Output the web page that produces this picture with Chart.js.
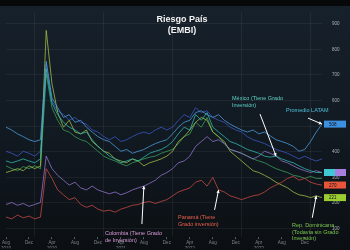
<!DOCTYPE html>
<html>
<head>
<meta charset="utf-8">
<script src="https://cdn.jsdelivr.net/npm/chart.js@4"></script>
<style>
  html, body { margin: 0; padding: 0; }
  body {
    width: 350px; height: 250px; overflow: hidden; position: relative;
    background: linear-gradient(#17212b, #111921 55%, #0b0f13);
    font-family: "Liberation Sans", Arial, sans-serif;
  }
  #bar { position: absolute; left: 0; top: 0; width: 350px; height: 6px; background: #06080a; }
  #wrap { position: absolute; left: 0; top: 0; width: 350px; height: 250px; }
  .title { position: absolute; color: #f2f2f2; font-weight: bold; font-size: 9px; line-height: 11px; text-align: center; }
  .note { position: absolute; font-size: 5.5px; line-height: 6.5px; white-space: nowrap; }
</style>
</head>
<body>
<div id="bar"></div>
<div id="wrap"><canvas id="chart"></canvas></div>
<div class="title" style="left:140px; top:14px; width:84px;">Riesgo País<br>(EMBI)</div>
<div class="note" style="left:232px; top:95px; color:#5fd3c6;">México (Tiene Grado<br>Inversión)</div>
<div class="note" style="left:286px; top:107px; color:#4fc1d8;">Promedio LATAM</div>
<div class="note" style="left:105px; top:230px; color:#d99ad6;">Colombia (Tiene Grado<br>de Inversión)</div>
<div class="note" style="left:178px; top:214px; color:#e8604a;">Panamá (Tiene<br>Grado inversión)</div>
<div class="note" style="left:292px; top:222px; color:#7ec850;">Rep. Dominicana<br>(Todavía sin Grado<br>Inversión)</div>
<script>
// monthly, Aug 2019 - Mar 2024
const months = [
  '2019-08','2019-09','2019-10','2019-11','2019-12',
  '2020-01','2020-02','2020-03','2020-04','2020-05','2020-06','2020-07','2020-08','2020-09','2020-10','2020-11','2020-12',
  '2021-01','2021-02','2021-03','2021-04','2021-05','2021-06','2021-07','2021-08','2021-09','2021-10','2021-11','2021-12',
  '2022-01','2022-02','2022-03','2022-04','2022-05','2022-06','2022-07','2022-08','2022-09','2022-10','2022-11','2022-12',
  '2023-01','2023-02','2023-03','2023-04','2023-05','2023-06','2023-07','2023-08','2023-09','2023-10','2023-11','2023-12',
  '2024-01','2024-02','2024-03'
];
const monthAbbr = ['Jan','Feb','Mar','Apr','May','Jun','Jul','Aug','Sep','Oct','Nov','Dec'];
const yTicks = [100, 200, 300, 400, 500, 600, 700, 800, 900];

const latam = [496,485,470,459,447,440,447, 753,610,572,534,545,515,523,496,477,459,
  447,440,421,402,409,394,402,409,421,432, 440,447,470,496,515,523,553,560,545,534,
  545,523,508,496,485,477,485,470,477,462, 447,440,432,421,402,409,440,477,508];
const mexico = [364,357,364,372,364,357,372, 723,591,545,515,496,485,470,477,447,421,
  402,383,372,357,364,372,364,379,394,402, 409,421,440,470,496,485,545,523,553,496,
  477,459,440,432,421,409,402,394,383,379, 383,372,364,357,345,334,326,319,319];
const otro1 = [345,334,326,342,334,345,334, 704,572,523,485,477,459,447,440,421,402,
  383,372,364,353,345,357,364,372,379,383, 394,402,409,432,459,470,515,496,534,477,
  459,432,409,402,394,383,372,364,357,345, 334,326,319,308,304,296,304,296,296];
const otro2 = [402,394,383,402,394,383,402, 742,598,560,545,523,534,515,508,485,477,
  459,447,459,440,447,459,470,477,470,485, 496,485,496,523,545,534,572,553,560,534,
  523,515,496,485,477,459,447,440,432,421, 409,402,394,383,372,383,372,364,372];
const colombia = [194,202,191,198,187,194,202, 383,334,308,289,270,281,259,251,266,251,
  243,236,243,232,240,251,259,266,277,289, 308,319,334,357,364,383,421,440,459,440,
  447,432,409,402,394,383,372,383,402,394, 383,364,357,345,334,326,319,326,319];
const panama = [145,138,153,142,149,138,145, 334,296,251,232,213,221,194,183,191,176,
  168,172,164,176,183,191,194,202,206,198, 206,213,228,243,251,259,281,289,266,300,
  251,243,228,221,213,221,228,232,243,259, 270,281,296,304,289,296,281,274,270];
const repDom = [319,326,334,326,345,334,345, 874,666,553,496,523,477,470,485,440,421,
  402,394,372,364,357,372,364,345,357,364, 372,383,402,440,459,485,515,534,523,477,
  459,440,402,383,364,345,326,319,308,296, 281,270,259,243,232,228,221,228,221];

const series = [
  { label: 'Promedio LATAM', data: latam, color: 'rgba(80,160,225,0.85)' },
  { label: 'México', data: mexico, color: 'rgba(50,190,175,0.85)' },
  { label: 'Colombia', data: colombia, color: 'rgba(150,120,210,0.85)' },
  { label: 'Panamá', data: panama, color: 'rgba(205,75,70,0.85)' },
  { label: 'Rep. Dominicana', data: repDom, color: 'rgba(165,195,70,0.85)' },
  { label: 'Otro 1', data: otro1, color: 'rgba(65,170,95,0.8)' },
  { label: 'Otro 2', data: otro2, color: 'rgba(60,90,200,0.85)' }
];

// last-value boxes on the right axis
const boxes = [
  { set: 0, color: '#3d8fe0', part: 0 },
  { set: 1, color: '#3fc7d6', part: 1 },
  { set: 2, color: '#a77de0', part: 2 },
  { set: 3, color: '#e8553a', part: 0 },
  { set: 4, color: '#9acd32', part: 0 }
];
// arrows from the notes to a point on a line
const pointers = [
  { set: 1, at: 47, dx: -16, dy: -42 },
  { set: 0, at: 55, dx: -14, dy: -6 },
  { set: 2, at: 24, dx: -2, dy: 38 },
  { set: 3, at: 37, dx: -4, dy: 20 },
  { set: 4, at: 54, dx: -4, dy: 22 }
];

const extras = {
  id: 'extras',
  afterDatasetsDraw(chart) {
    const ctx = chart.ctx, x = chart.scales.x, y = chart.scales.y;
    ctx.save();
    ctx.strokeStyle = '#ffffff';
    ctx.fillStyle = '#ffffff';
    ctx.lineWidth = 1;
    pointers.forEach(p => {
      const tx = x.getPixelForValue(p.at);
      const ty = y.getPixelForValue(series[p.set].data[p.at]);
      const sx = tx + p.dx, sy = ty + p.dy;
      const a = Math.atan2(ty - sy, tx - sx);
      ctx.beginPath();
      ctx.moveTo(sx, sy);
      ctx.lineTo(tx, ty);
      ctx.stroke();
      ctx.beginPath();
      ctx.moveTo(tx, ty);
      ctx.lineTo(tx - 3.5 * Math.cos(a - 0.5), ty - 3.5 * Math.sin(a - 0.5));
      ctx.lineTo(tx - 3.5 * Math.cos(a + 0.5), ty - 3.5 * Math.sin(a + 0.5));
      ctx.closePath();
      ctx.fill();
    });
    ctx.restore();
  },
  afterDraw(chart) {
    const ctx = chart.ctx, y = chart.scales.y, left = chart.chartArea.right + 2;
    ctx.save();
    ctx.font = '4.5px "Liberation Sans", Arial';
    ctx.textBaseline = 'middle';
    boxes.forEach(b => {
      const d = series[b.set].data;
      const v = d[d.length - 1];
      const py = y.getPixelForValue(v);
      let bx = left, w = 22;
      if (b.part === 1) w = 11;
      if (b.part === 2) { bx = left + 11; w = 11; }
      ctx.fillStyle = b.color;
      ctx.fillRect(bx, py - 3.5, w, 7);
      if (b.part === 0) {
        ctx.fillStyle = '#101418';
        ctx.fillText(String(v), bx + 5, py + 0.5);
      }
    });
    ctx.restore();
  }
};

new Chart(document.getElementById('chart'), {
  type: 'line',
  data: {
    labels: months,
    datasets: series.map(s => ({
      label: s.label,
      data: s.data,
      borderColor: s.color,
      borderWidth: 0.9,
      pointRadius: 0,
      tension: 0
    }))
  },
  options: {
    responsive: true,
    maintainAspectRatio: false,
    animation: false,
    layout: { padding: { top: 7, left: 0, right: 0, bottom: 0 } },
    plugins: { legend: { display: false }, tooltip: { enabled: false }, title: { display: false } },
    scales: {
      x: {
        border: { display: false },
        afterFit: s => { s.height = 11; },
        grid: {
          color: c => (c.tick && months[c.tick.value] && months[c.tick.value].endsWith('-01')) ? 'rgba(255,255,255,0.06)' : 'rgba(0,0,0,0)',
          tickColor: c => (c.index % 4 === 0) ? 'rgba(255,255,255,0.3)' : 'rgba(0,0,0,0)',
          tickLength: 2
        },
        ticks: {
          autoSkip: false,
          maxRotation: 0,
          color: '#7d848c',
          font: { size: 4.5 },
          padding: 1,
          callback(v, i) {
            if (i % 4 !== 0) return '';
            const [yr, mo] = months[i].split('-');
            const name = monthAbbr[Number(mo) - 1];
            return (mo === '04' || i === 0) ? [name, yr] : name;
          }
        }
      },
      y: {
        position: 'right',
        min: 66,
        max: 943,
        border: { display: false },
        afterBuildTicks: s => { s.ticks = yTicks.map(v => ({ value: v })); },
        afterFit: s => { s.width = 28; },
        grid: { color: 'rgba(255,255,255,0.055)', drawTicks: false },
        ticks: { color: '#aab0b8', font: { size: 4.5 }, padding: 10 }
      }
    }
  },
  plugins: [extras]
});
</script>
</body>
</html>
